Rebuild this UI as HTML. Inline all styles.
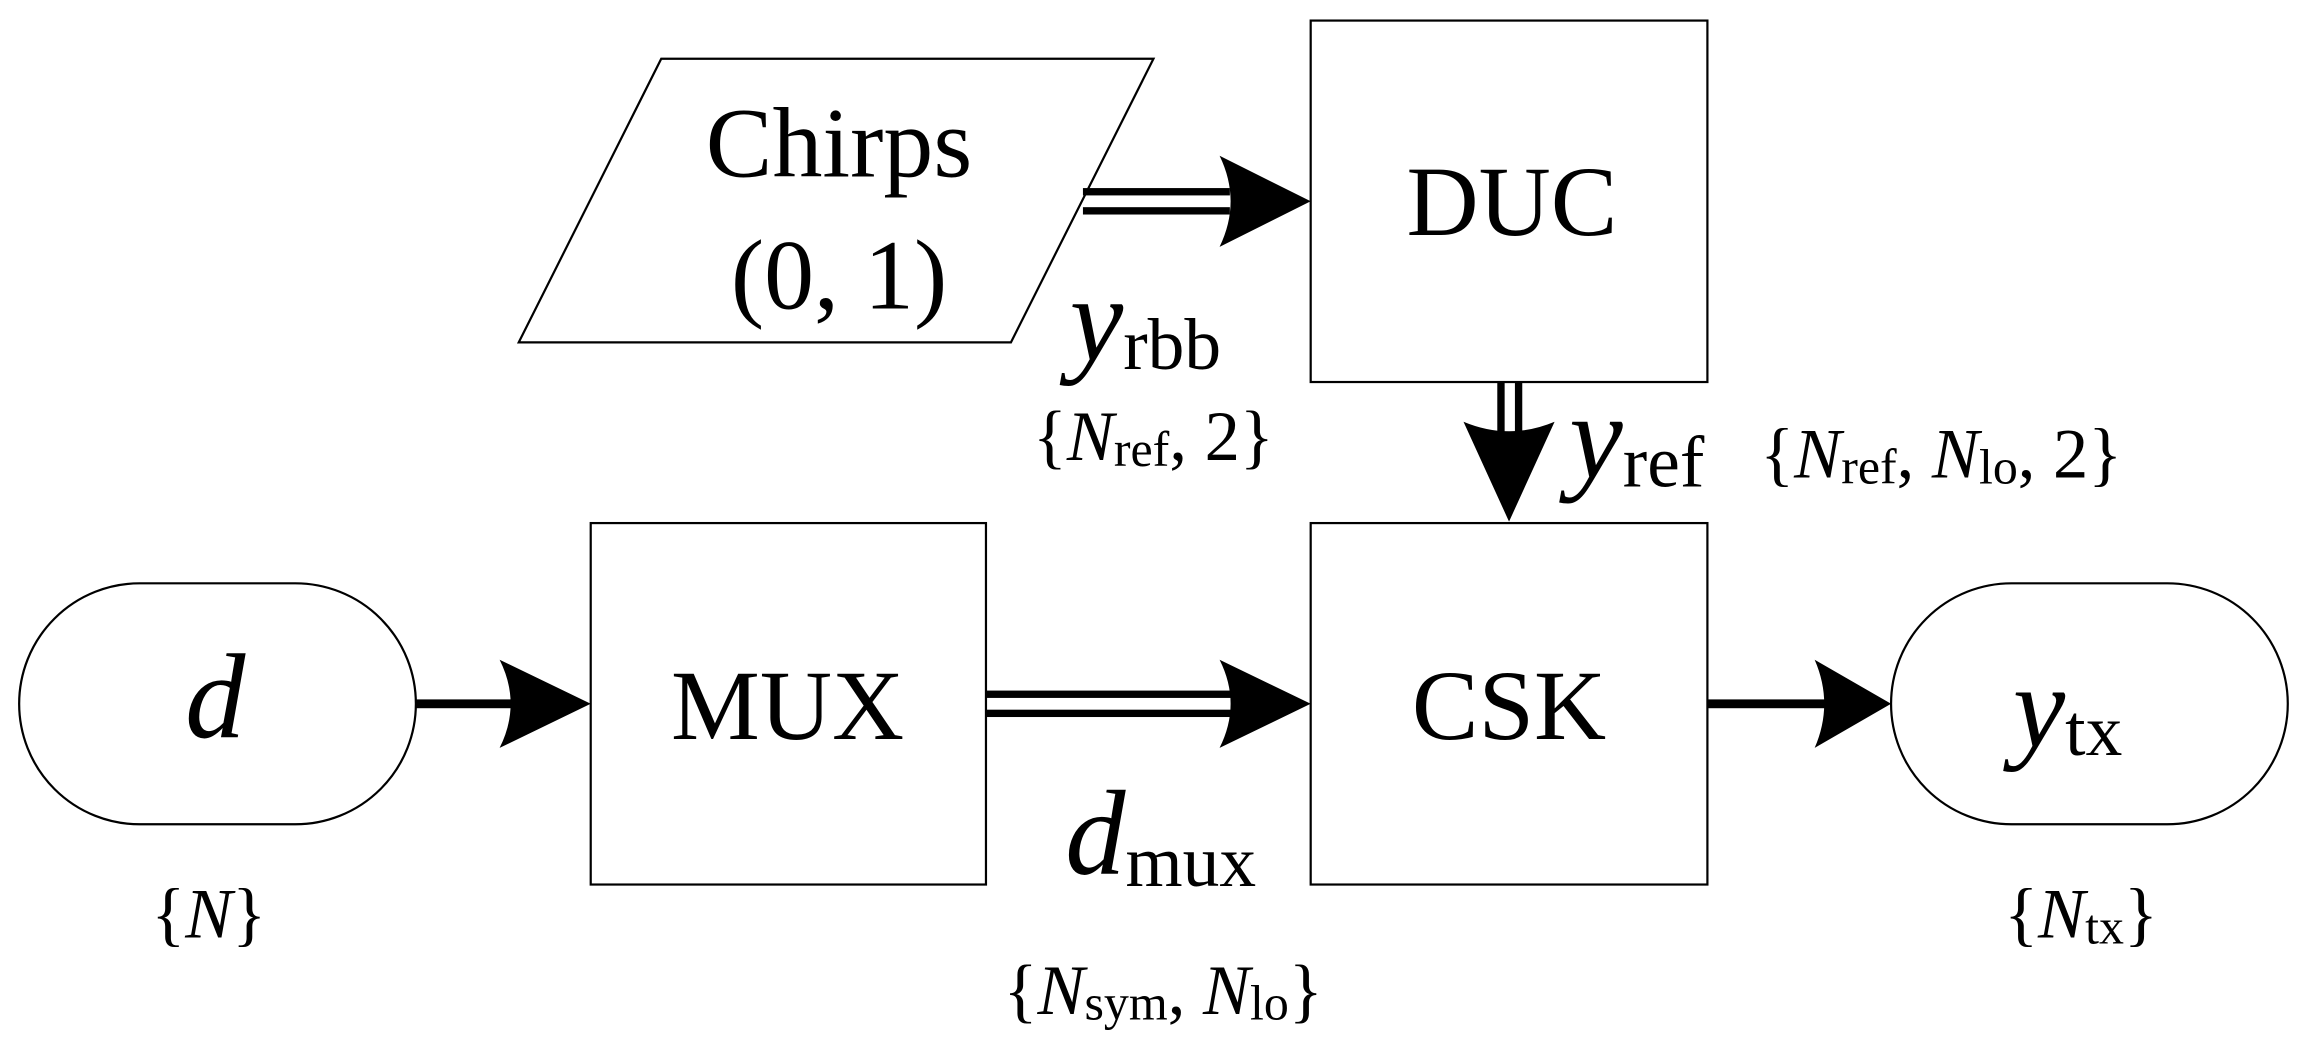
<!DOCTYPE html>
<html><head><meta charset="utf-8"><style>html,body{margin:0;padding:0;background:#fff}svg{display:block}</style></head>
<body>
<svg width="2304" height="1056" viewBox="0 0 1568 718.7" xmlns="http://www.w3.org/2000/svg" font-family="'Liberation Serif', serif" fill="#000">
<g fill="none" stroke="#000" stroke-width="1.5">
<polygon points="450,40 785,40 688,233 353,233"/>
<rect x="892" y="14" width="270" height="246"/>
<rect x="892" y="356" width="270" height="246"/>
<rect x="402" y="356" width="269" height="246"/>
<rect x="13" y="397" width="270" height="164" rx="82" ry="82"/>
<rect x="1287" y="397" width="270" height="164" rx="82" ry="82"/>
</g>
<rect x="737" y="128" width="100" height="5"/><rect x="737" y="141" width="100" height="5"/>
<path d="M830,106 L892,137 L830,168 Q845,137 830,106Z"/>
<rect x="1019" y="260" width="5" height="40"/><rect x="1031" y="260" width="5" height="40"/>
<path d="M996,287 L1027,355 L1058,287 Q1027,300 996,287Z"/>
<rect x="283" y="476" width="70" height="6"/>
<path d="M340,449 L402,479 L340,509 Q355,479 340,449Z"/>
<rect x="671" y="470" width="167" height="5"/><rect x="671" y="483" width="167" height="5"/>
<path d="M830,449 L892,479 L830,509 Q845,479 830,449Z"/>
<rect x="1162" y="476" width="85" height="6"/>
<path d="M1235,449 L1287,479 L1235,509 Q1248,479 1235,449Z"/>
<g text-anchor="middle" font-size="68">
<text x="571" y="120">Chirps</text>
<text x="571" y="210">(0, 1)</text>
<text x="1029" y="160">DUC</text>
<text x="1027" y="503">CSK</text>
<text x="536" y="503">MUX</text>
</g>
<text x="126" y="502" font-size="82" font-style="italic">d</text>
<text x="1370" y="508" font-size="80"><tspan font-style="italic">y</tspan><tspan font-size="50" dy="6">tx</tspan></text>
<text x="728" y="245" font-size="82"><tspan font-style="italic">y</tspan><tspan font-size="50" dy="6">rbb</tspan></text>
<text x="1068" y="325" font-size="82"><tspan font-style="italic">y</tspan><tspan font-size="50" dy="6">ref</tspan></text>
<text x="725" y="595" font-size="82"><tspan font-style="italic">d</tspan><tspan font-size="50" dy="8">mux</tspan></text>
<g font-size="48">
<text x="703" y="313">{<tspan font-style="italic">N</tspan><tspan font-size="34" dy="4">ref</tspan><tspan dy="-4">, 2}</tspan></text>
<text x="1198" y="325">{<tspan font-style="italic">N</tspan><tspan font-size="34" dy="4">ref</tspan><tspan dy="-4">, </tspan><tspan font-style="italic">N</tspan><tspan font-size="34" dy="4">lo</tspan><tspan dy="-4">, 2}</tspan></text>
<text x="103" y="638">{<tspan font-style="italic">N</tspan>}</text>
<text x="1364" y="638">{<tspan font-style="italic">N</tspan><tspan font-size="34" dy="4">tx</tspan><tspan dy="-4">}</tspan></text>
<text x="683" y="690">{<tspan font-style="italic">N</tspan><tspan font-size="34" dy="4">sym</tspan><tspan dy="-4">, </tspan><tspan font-style="italic">N</tspan><tspan font-size="34" dy="4">lo</tspan><tspan dy="-4">}</tspan></text>
</g>
</svg>
</body></html>
